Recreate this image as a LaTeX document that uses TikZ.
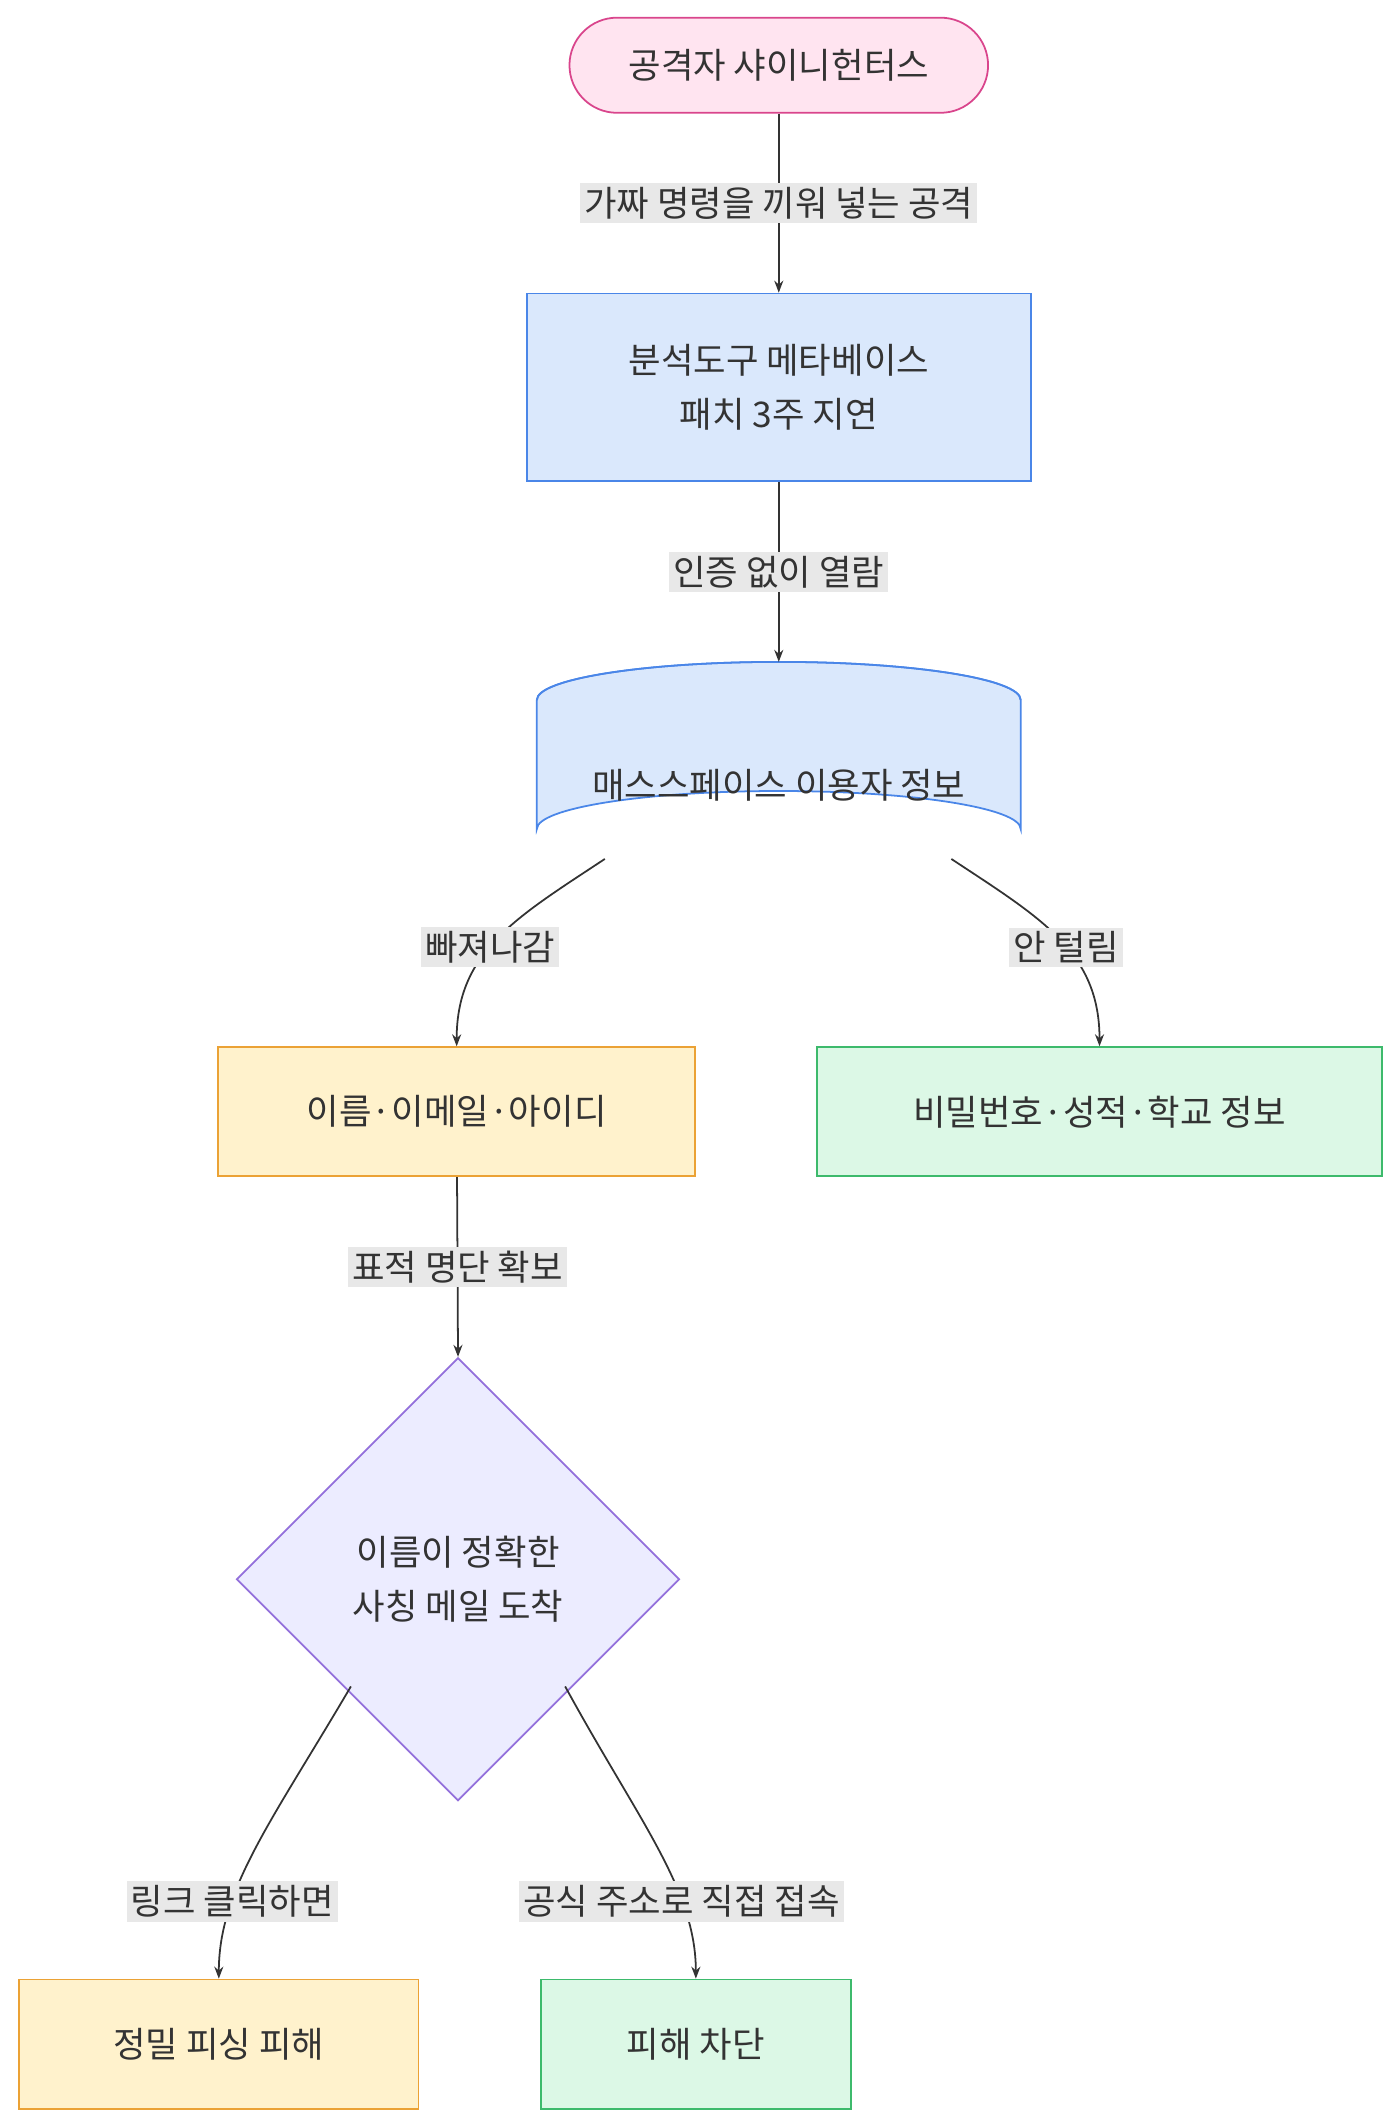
\documentclass[tikz,border=0pt]{standalone}
\usepackage{fontspec}
\setmainfont{Noto Sans CJK KR}
\usetikzlibrary{arrows.meta, positioning, shapes.geometric}
\definecolor{txt}{HTML}{333333}
\definecolor{pinkf}{HTML}{FFE4F0}\definecolor{pinkd}{HTML}{D9458C}
\definecolor{bluef}{HTML}{DAE8FC}\definecolor{blued}{HTML}{4A86E8}
\definecolor{yelf}{HTML}{FFF2CC}\definecolor{yeld}{HTML}{EBA235}
\definecolor{grnf}{HTML}{DCF8E6}\definecolor{grnd}{HTML}{3DBA6C}
\definecolor{purf}{HTML}{ECECFF}\definecolor{purd}{HTML}{9370DB}
\definecolor{lblf}{HTML}{E8E8E8}
\begin{document}
\begin{tikzpicture}[x=1pt,y=-1pt,>=Stealth, font=\fontsize{26}{40}\selectfont, text=txt,
  box/.style={draw,line width=1.3pt,align=center,inner sep=0pt},
  lbl/.style={fill=lblf,inner sep=3pt,text=txt},
  link/.style={->,draw=txt,line width=1.3pt}]
\useasboundingbox (0,0) rectangle (1030,1565);

\node[box,rounded corners=35pt,fill=pinkf,draw=pinkd,minimum width=308pt,minimum height=70pt] (atk) at (573,48) {공격자 샤이니헌터스};
\node[box,fill=bluef,draw=blued,minimum width=371pt,minimum height=138pt] (meta) at (573,285) {분석도구 메타베이스\\패치 3주 지연};
% database
\draw[line width=1.3pt,draw=blued,fill=bluef] (395,515) -- (395,610) arc[x radius=178,y radius=28,start angle=180,end angle=360] -- (751,515) arc[x radius=178,y radius=28,start angle=0,end angle=-180] -- cycle;
\draw[line width=1.3pt,draw=blued] (395,515) arc[x radius=178,y radius=28,start angle=180,end angle=360];
\node (db) at (573,578) {매스스페이스 이용자 정보};
\coordinate (dbl) at (445,632);
\coordinate (dbr) at (700,632);
\coordinate (dbt) at (573,487);
\node[box,fill=yelf,draw=yeld,minimum width=351pt,minimum height=95pt] (leak) at (336,818) {이름·이메일·아이디};
\node[box,fill=grnf,draw=grnd,minimum width=416pt,minimum height=95pt] (safe) at (809,818) {비밀번호·성적·학교 정보};
\node[box,diamond,fill=purf,draw=purd,minimum width=326pt,minimum height=326pt] (mail) at (337,1162) {이름이 정확한\\사칭 메일 도착};
\node[box,fill=yelf,draw=yeld,minimum width=294pt,minimum height=95pt] (hurt) at (161,1504) {정밀 피싱 피해};
\node[box,fill=grnf,draw=grnd,minimum width=228pt,minimum height=95pt] (block) at (512,1504) {피해 차단};

\draw[link] (atk) -- (meta) node[lbl,pos=0.5] {가짜 명령을 끼워 넣는 공격};
\draw[link] (meta) -- (dbt) node[lbl,pos=0.5] {인증 없이 열람};
\draw[link] (dbl) .. controls (380,675) and (336,700) .. (leak.north) node[lbl,pos=0.55] {빠져나감};
\draw[link] (dbr) .. controls (765,675) and (809,700) .. (safe.north) node[lbl,pos=0.55] {안 털림};
\draw[link] (leak) -- (mail.north) node[lbl,pos=0.5] {표적 명단 확보};
\draw[link] (mail.south west) ++(3,-3) .. controls (200,1340) and (161,1390) .. (hurt.north) node[lbl,pos=0.7] {링크 클릭하면};
\draw[link] (mail.south east) ++(-3,-3) .. controls (470,1340) and (512,1390) .. (block.north) node[lbl,pos=0.7] {공식 주소로 직접 접속};
\end{tikzpicture}
\end{document}
